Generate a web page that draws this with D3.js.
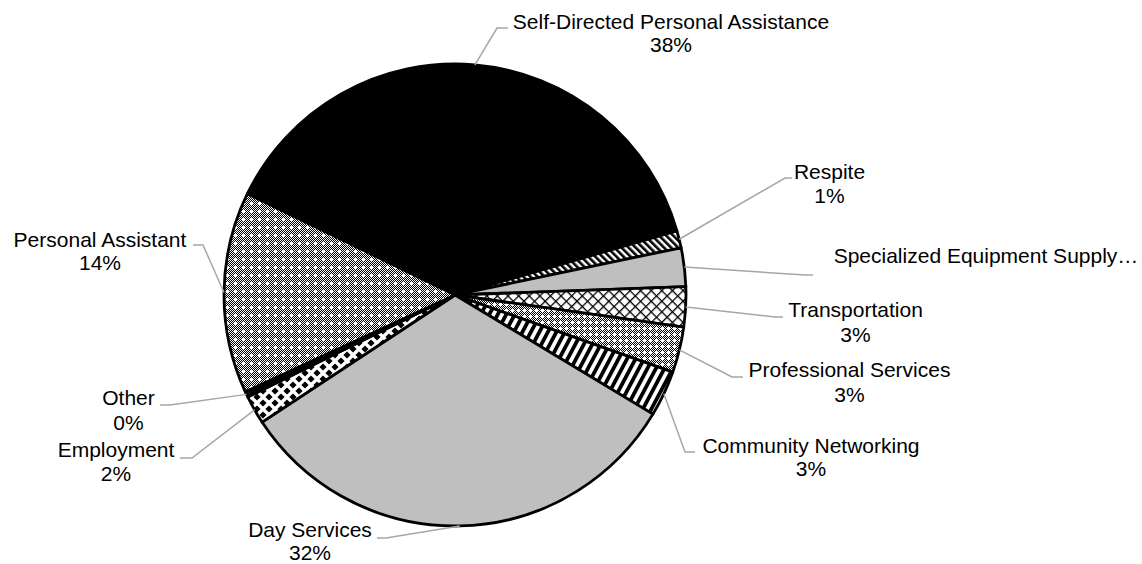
<!DOCTYPE html>
<html>
<head>
<meta charset="utf-8">
<script src="https://cdn.jsdelivr.net/npm/d3@7/dist/d3.min.js"></script>
<style>
  html, body { margin: 0; padding: 0; background: #fff; }
  svg { display: block; }
  text { font-family: "Liberation Sans", Arial, sans-serif; font-size: 21px; fill: #000; }
</style>
</head>
<body>
<svg id="chart" width="1142" height="564"></svg>
<script>
// Service categories, clockwise from the first slice
const categories = [
  "Self-Directed Personal Assistance",
  "Respite",
  "Specialized Equipment Supply…",
  "Transportation",
  "Professional Services",
  "Community Networking",
  "Day Services",
  "Employment",
  "Other",
  "Personal Assistant"
];
// Share of spending per category (percent)
const shares = [38.3, 1.2, 2.7, 2.8, 3.2, 3.2, 32.1, 2.0, 0.4, 14.1];
// Whether the percent line is shown under the category name
const showPercent = [true, true, false, true, true, true, true, true, true, true];

// Fill style per slice (pattern ids or colours)
const fills = [
  "#000000", "url(#pRespite)", "#bfbfbf", "url(#pLattice)", "url(#pDots)",
  "url(#pWide)", "#bfbfbf", "url(#pDiamond)", "#000000", "url(#pChecker)"
];

// Label anchors: text centre x, first baseline y, line gap, elbow and end points of the leader
const labelLayout = [
  { x: 671,   y: 29,  gap: 23, elbow: [497, 28],  end: [508, 28] },
  { x: 829.5, y: 179, gap: 24, elbow: [785, 178], end: [792, 178] },
  { x: 986,   y: 263, gap: 24, elbow: [805, 275], end: [813, 275] },
  { x: 855.5, y: 317, gap: 25, elbow: [775, 317], end: [783, 317] },
  { x: 849.5, y: 377, gap: 25, elbow: [732, 377], end: [743, 377] },
  { x: 811,   y: 453, gap: 23, elbow: [685, 452], end: [695, 452] },
  { x: 310,   y: 537, gap: 23, elbow: [386, 538], end: [377, 538] },
  { x: 116,   y: 457, gap: 24, elbow: [192, 458], end: [180, 458] },
  { x: 128.5, y: 405, gap: 25, elbow: [170, 405], end: [160, 405] },
  { x: 100,   y: 247, gap: 23, elbow: [203, 245], end: [193, 245] }
];

const svg = d3.select("#chart");
const cx = 455, cy = 295, R = 231;
const startDeg = -64;

// ---- pattern definitions ----
const defs = svg.append("defs");

// narrow "\" stripes
const pr = defs.append("pattern").attr("id", "pRespite").attr("patternUnits", "userSpaceOnUse")
  .attr("width", 5).attr("height", 5).attr("patternTransform", "rotate(-45)");
pr.append("rect").attr("width", 5).attr("height", 5).attr("fill", "#fff");
pr.append("rect").attr("width", 2.6).attr("height", 5).attr("fill", "#000");

// diagonal lattice
const pl = defs.append("pattern").attr("id", "pLattice").attr("patternUnits", "userSpaceOnUse")
  .attr("width", 7.5).attr("height", 7.5).attr("patternTransform", "rotate(45)");
pl.append("rect").attr("width", 7.5).attr("height", 7.5).attr("fill", "#fff");
pl.append("rect").attr("width", 7.5).attr("height", 1.3).attr("fill", "#000");
pl.append("rect").attr("width", 1.3).attr("height", 7.5).attr("fill", "#000");

// fine checker with white crosses, small period
const pd = defs.append("pattern").attr("id", "pDots").attr("patternUnits", "userSpaceOnUse")
  .attr("width", 6).attr("height", 6);
pd.append("rect").attr("width", 6).attr("height", 6).attr("fill", "#fff");
for (let y = 0; y < 6; y++) {
  for (let x = 0; x < 6; x++) {
    if ((x + y) % 2 === 1 && Math.abs(x - 3) + Math.abs(y - 3) > 1) {
      pd.append("rect").attr("x", x).attr("y", y).attr("width", 1).attr("height", 1).attr("fill", "#000");
    }
  }
}

// wide "/" stripes
const pw = defs.append("pattern").attr("id", "pWide").attr("patternUnits", "userSpaceOnUse")
  .attr("width", 7.5).attr("height", 7.5).attr("patternTransform", "rotate(28)");
pw.append("rect").attr("width", 7.5).attr("height", 7.5).attr("fill", "#fff");
pw.append("rect").attr("width", 3.8).attr("height", 7.5).attr("fill", "#000");

// black diamonds on white
const pm = defs.append("pattern").attr("id", "pDiamond").attr("patternUnits", "userSpaceOnUse")
  .attr("width", 12).attr("height", 12);
pm.append("rect").attr("width", 12).attr("height", 12).attr("fill", "#fff");
[[0,0],[12,0],[0,12],[12,12],[6,6]].forEach(([x, y]) =>
  pm.append("path").attr("d", `M${x},${y-3.6}L${x+3.6},${y}L${x},${y+3.6}L${x-3.6},${y}Z`).attr("fill", "#000"));

// 1px checker with white dots on a diagonal grid
const pc = defs.append("pattern").attr("id", "pChecker").attr("patternUnits", "userSpaceOnUse")
  .attr("width", 8).attr("height", 8).attr("patternTransform", "rotate(0)");
pc.append("rect").attr("width", 8).attr("height", 8).attr("fill", "#fff");
for (let y = 0; y < 8; y++) {
  for (let x = 0; x < 8; x++) {
    if ((x + y) % 2 === 1 && Math.abs(x - 4) + Math.abs(y - 4) > 1) {
      pc.append("rect").attr("x", x).attr("y", y).attr("width", 1).attr("height", 1).attr("fill", "#000");
    }
  }
}

// ---- pie ----
const data = categories.map((c, i) => ({ name: c, value: shares[i], i }));
const total = d3.sum(shares);
const a0 = startDeg * Math.PI / 180;
const pie = d3.pie().sort(null).value(d => d.value).startAngle(a0).endAngle(a0 + 2 * Math.PI);
const arcs = pie(data);
const arc = d3.arc().innerRadius(0).outerRadius(R);

const g = svg.append("g").attr("transform", `translate(${cx},${cy})`);
g.selectAll("path.slice").data(arcs).join("path")
  .attr("class", "slice")
  .attr("d", arc)
  .attr("fill", d => fills[d.data.i])
  .attr("stroke", "#000")
  .attr("stroke-width", 2.8)
  .attr("stroke-linejoin", "round");

// ---- leader lines ----
const line = d3.line();
svg.append("g").selectAll("path").data(arcs).join("path")
  .attr("d", d => {
    const mid = (d.startAngle + d.endAngle) / 2;
    const p0 = [cx + R * Math.sin(mid), cy - R * Math.cos(mid)];
    const L = labelLayout[d.data.i];
    return line([p0, L.elbow, L.end]);
  })
  .attr("fill", "none")
  .attr("stroke", "#a6a6a6")
  .attr("stroke-width", 1.5);

// ---- labels ----
const lg = svg.append("g");
arcs.forEach(d => {
  const L = labelLayout[d.data.i];
  const t = lg.append("text").attr("text-anchor", "middle").attr("x", L.x).attr("y", L.y);
  t.append("tspan").attr("x", L.x).text(d.data.name);
  if (showPercent[d.data.i]) {
    t.append("tspan").attr("x", L.x).attr("dy", L.gap).text(Math.round(d.data.value / total * 100) + "%");
  }
});
</script>
</body>
</html>
